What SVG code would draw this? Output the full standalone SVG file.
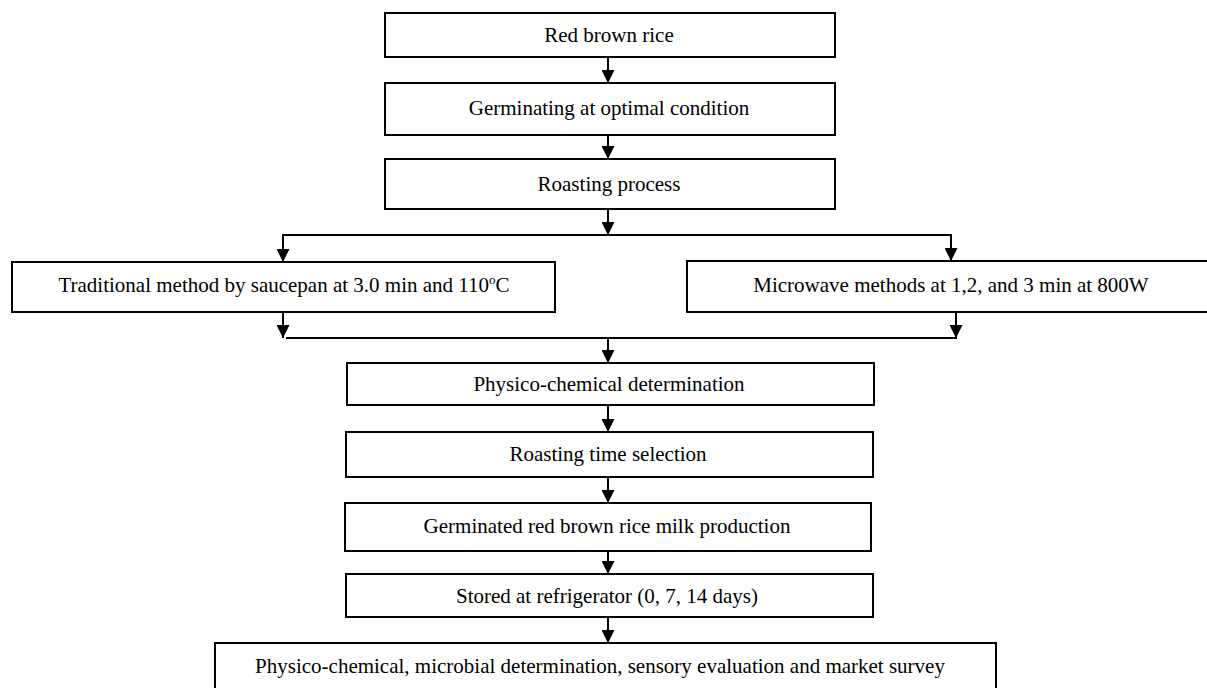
<svg xmlns="http://www.w3.org/2000/svg" width="1207" height="688" viewBox="0 0 1207 688">
<style>
.box{fill:#fff;stroke:#000;stroke-width:2}
.t{font-family:"Liberation Serif","Times New Roman",serif;font-size:21px;fill:#000;text-anchor:middle}
.c{fill:none;stroke:#000;stroke-width:2}
</style>
<defs>
<marker id="ah" viewBox="0 0 10 10" refX="10" refY="5" markerWidth="15" markerHeight="13" markerUnits="userSpaceOnUse" orient="auto">
<path d="M0,0 L10,5 L0,10 z" fill="#000"/>
</marker>
</defs>
<rect width="1207" height="688" fill="#fff"/>
<g id="connectors">
<line class="c" x1="608" y1="57" x2="608" y2="83" marker-end="url(#ah)"/>
<line class="c" x1="608" y1="135" x2="608" y2="159" marker-end="url(#ah)"/>
<line class="c" x1="608" y1="209" x2="608" y2="235" marker-end="url(#ah)"/>
<polyline class="c" points="283,262 283,235 951,235 951,261" marker-end="url(#ah)"/>
<line class="c" x1="283" y1="236" x2="283" y2="262" marker-end="url(#ah)"/>
<line class="c" x1="283" y1="312" x2="283" y2="338" marker-end="url(#ah)"/>
<line class="c" x1="956" y1="312" x2="956" y2="338" marker-end="url(#ah)"/>
<line class="c" x1="286" y1="338" x2="957" y2="338"/>
<line class="c" x1="608" y1="338" x2="608" y2="363" marker-end="url(#ah)"/>
<line class="c" x1="608" y1="405" x2="608" y2="432" marker-end="url(#ah)"/>
<line class="c" x1="608" y1="477" x2="608" y2="503" marker-end="url(#ah)"/>
<line class="c" x1="608" y1="551" x2="608" y2="574" marker-end="url(#ah)"/>
<line class="c" x1="608" y1="617" x2="608" y2="643" marker-end="url(#ah)"/>
</g>
<g id="n1"><rect class="box" x="385" y="13" width="450" height="44"/><text class="t" x="609" y="42">Red brown rice</text></g>
<g id="n2"><rect class="box" x="385" y="83" width="450" height="52"/><text class="t" x="609" y="115">Germinating at optimal condition</text></g>
<g id="n3"><rect class="box" x="385" y="159" width="450" height="50"/><text class="t" x="609" y="191">Roasting process</text></g>
<g id="n4"><rect class="box" x="12" y="262" width="543" height="50"/><text class="t" x="284" y="292">Traditional method by saucepan at 3.0 min and 110<tspan font-size="13" dy="-8">o</tspan><tspan dy="8">C</tspan></text></g>
<g id="n5"><rect class="box" x="687" y="261" width="530" height="51"/><text class="t" x="951" y="292">Microwave methods at 1,2, and 3 min at 800W</text></g>
<g id="n6"><rect class="box" x="347" y="363" width="527" height="42"/><text class="t" x="609" y="391">Physico-chemical determination</text></g>
<g id="n7"><rect class="box" x="346" y="432" width="527" height="45"/><text class="t" x="608" y="461">Roasting time selection</text></g>
<g id="n8"><rect class="box" x="345" y="503" width="526" height="48"/><text class="t" x="607" y="533">Germinated red brown rice milk production</text></g>
<g id="n9"><rect class="box" x="346" y="574" width="527" height="43"/><text class="t" x="607" y="603">Stored at refrigerator (0, 7, 14 days)</text></g>
<g id="n10"><rect class="box" x="215" y="643" width="781" height="60"/><text class="t" x="600" y="673">Physico-chemical, microbial determination, sensory evaluation and market survey</text></g>
</svg>
